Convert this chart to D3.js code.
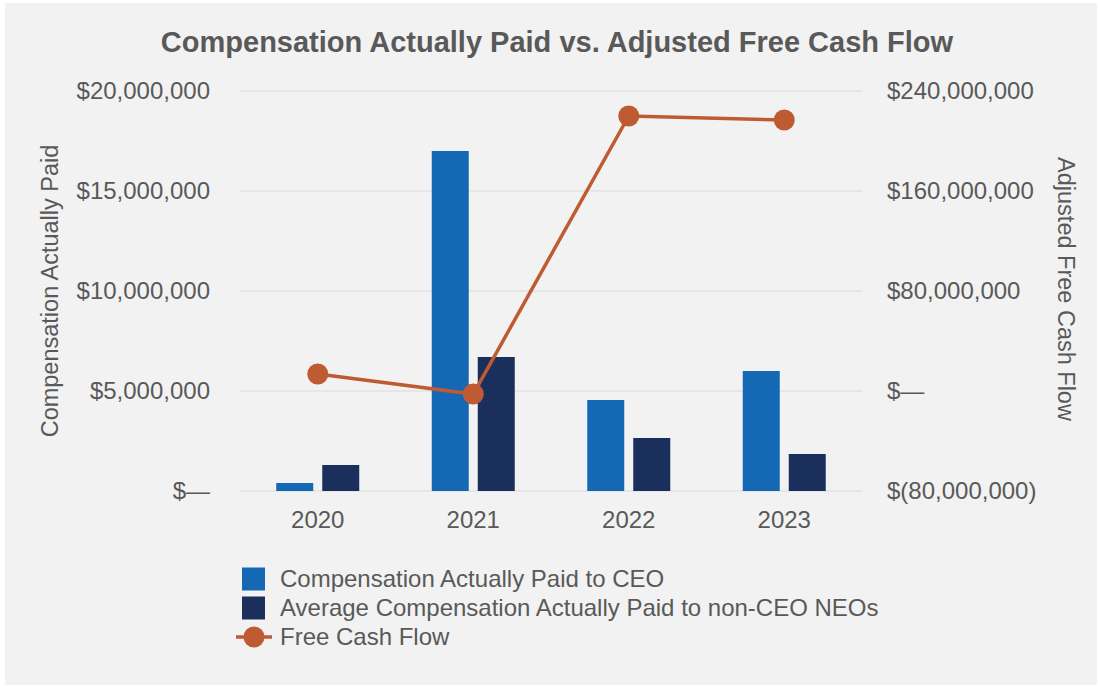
<!DOCTYPE html>
<html>
<head>
<meta charset="utf-8">
<script src="https://cdn.jsdelivr.net/npm/d3@7"></script>
<style>
  html, body { margin: 0; padding: 0; background: #ffffff; }
  svg { display: block; }
  text { font-family: "Liberation Sans", Arial, Helvetica, sans-serif; fill: #595959; }
</style>
</head>
<body>
<svg id="chart" width="1098" height="686"></svg>
<script>
// Fiscal years on the category axis
const years = ["2020", "2021", "2022", "2023"];

// Compensation actually paid (left axis, USD)
const ceoPay = [400000, 17000000, 4550000, 6000000];
const neoPay = [1300000, 6700000, 2650000, 1850000];

// Adjusted free cash flow (right axis, USD)
const freeCashFlow = [13600000, -2400000, 220000000, 216800000];

// Axis tick values
const leftTicks = [0, 5000000, 10000000, 15000000, 20000000];
const rightTicks = [-80000000, 0, 80000000, 160000000, 240000000];

// Series names for the legend
const seriesNames = [
  "Compensation Actually Paid to CEO",
  "Average Compensation Actually Paid to non-CEO NEOs",
  "Free Cash Flow"
];

const colors = { ceo: "#1568b3", neo: "#1b2f5d", fcf: "#bf5b33" };

const svg = d3.select("#chart");

// Panel background
svg.append("rect")
  .attr("x", 5).attr("y", 3)
  .attr("width", 1092).attr("height", 682)
  .attr("fill", "#f2f2f2");

const plot = { left: 240, right: 862, top: 91, bottom: 491 };

const x0 = d3.scaleBand().domain(years).range([plot.left, plot.right]).paddingInner(0).paddingOuter(0);
const x1 = d3.scaleBand().domain(["ceo", "neo"]).range([0, x0.bandwidth()])
  .paddingInner(9 / 46).paddingOuter(0.788);

const yLeft = d3.scaleLinear().domain([0, 20000000]).range([plot.bottom, plot.top]);
const yRight = d3.scaleLinear().domain([-80000000, 240000000]).range([plot.bottom, plot.top]);

// Accounting-style currency labels: zero as a dash, negatives in parentheses
function money(v) {
  if (v === 0) return "$\u2014";
  const s = d3.format(",")(Math.abs(v));
  return v < 0 ? "$(" + s + ")" : "$" + s;
}

const fontStack = "\"Liberation Sans\", Arial, sans-serif";

// Title
svg.append("text")
  .attr("x", 557).attr("y", 52)
  .attr("text-anchor", "middle")
  .style("font-size", "29px")
  .style("font-weight", "bold")
  .text("Compensation Actually Paid vs. Adjusted Free Cash Flow");

// Horizontal gridlines
svg.append("g")
  .selectAll("line")
  .data(leftTicks)
  .join("line")
  .attr("x1", plot.left).attr("x2", plot.right)
  .attr("y1", d => yLeft(d)).attr("y2", d => yLeft(d))
  .attr("stroke", "#e2e2e2").attr("stroke-width", 1.5);

// Left axis labels
const leftAxis = d3.axisLeft(yLeft).tickValues(leftTicks).tickFormat(money).tickSize(0).tickPadding(30);
svg.append("g")
  .attr("transform", `translate(${plot.left},0)`)
  .call(leftAxis)
  .call(g => g.select(".domain").remove())
  .call(g => g.selectAll("text").style("font-size", "24px").attr("fill", "#595959").style("font-family", fontStack));

// Right axis labels
const rightAxis = d3.axisRight(yRight).tickValues(rightTicks).tickFormat(money).tickSize(0).tickPadding(25);
svg.append("g")
  .attr("transform", `translate(${plot.right},0)`)
  .call(rightAxis)
  .call(g => g.select(".domain").remove())
  .call(g => g.selectAll("text").style("font-size", "24px").attr("fill", "#595959").style("font-family", fontStack));

// Category axis labels
const bottomAxis = d3.axisBottom(x0).tickSize(0).tickPadding(20);
svg.append("g")
  .attr("transform", `translate(0,${plot.bottom})`)
  .call(bottomAxis)
  .call(g => g.select(".domain").remove())
  .call(g => g.selectAll("text").style("font-size", "24px").attr("fill", "#595959").style("font-family", fontStack));

// Axis titles
svg.append("text")
  .attr("transform", `translate(58,${(plot.top + plot.bottom) / 2}) rotate(-90)`)
  .attr("text-anchor", "middle")
  .style("font-size", "23.5px")
  .text("Compensation Actually Paid");

svg.append("text")
  .attr("transform", `translate(1058,${(plot.top + plot.bottom) / 2 - 2}) rotate(90)`)
  .attr("text-anchor", "middle")
  .style("font-size", "23.5px")
  .text("Adjusted Free Cash Flow");

// Bars
const barData = years.map((y, i) => [
  { year: y, key: "ceo", value: ceoPay[i] },
  { year: y, key: "neo", value: neoPay[i] }
]).flat();

svg.append("g")
  .selectAll("rect")
  .data(barData)
  .join("rect")
  .attr("x", d => x0(d.year) + x1(d.key))
  .attr("width", x1.bandwidth())
  .attr("y", d => yLeft(d.value))
  .attr("height", d => yLeft(0) - yLeft(d.value))
  .attr("fill", d => colors[d.key]);

// Free cash flow line with markers
const cx = (y) => x0(y) + x0.bandwidth() / 2;
const line = d3.line()
  .x((d, i) => cx(years[i]))
  .y(d => yRight(d));

svg.append("path")
  .datum(freeCashFlow)
  .attr("d", line)
  .attr("fill", "none")
  .attr("stroke", colors.fcf)
  .attr("stroke-width", 3.5);

svg.append("g")
  .selectAll("circle")
  .data(freeCashFlow)
  .join("circle")
  .attr("cx", (d, i) => cx(years[i]))
  .attr("cy", d => yRight(d))
  .attr("r", 10.5)
  .attr("fill", colors.fcf);

// Legend
const legend = svg.append("g");
const rowsY = [579, 608, 637];

legend.append("rect").attr("x", 242).attr("y", rowsY[0] - 11.5).attr("width", 23).attr("height", 23).attr("fill", colors.ceo);
legend.append("rect").attr("x", 242).attr("y", rowsY[1] - 11.5).attr("width", 23).attr("height", 23).attr("fill", colors.neo);
legend.append("line").attr("x1", 236).attr("x2", 272).attr("y1", rowsY[2]).attr("y2", rowsY[2])
  .attr("stroke", colors.fcf).attr("stroke-width", 3.5);
legend.append("circle").attr("cx", 254).attr("cy", rowsY[2]).attr("r", 10.5).attr("fill", colors.fcf);

legend.selectAll("text.lbl")
  .data(seriesNames)
  .join("text")
  .attr("class", "lbl")
  .attr("x", 280)
  .attr("y", (d, i) => rowsY[i])
  .attr("dy", "0.35em")
  .style("font-size", "24px")
  .text(d => d);
</script>
</body>
</html>
